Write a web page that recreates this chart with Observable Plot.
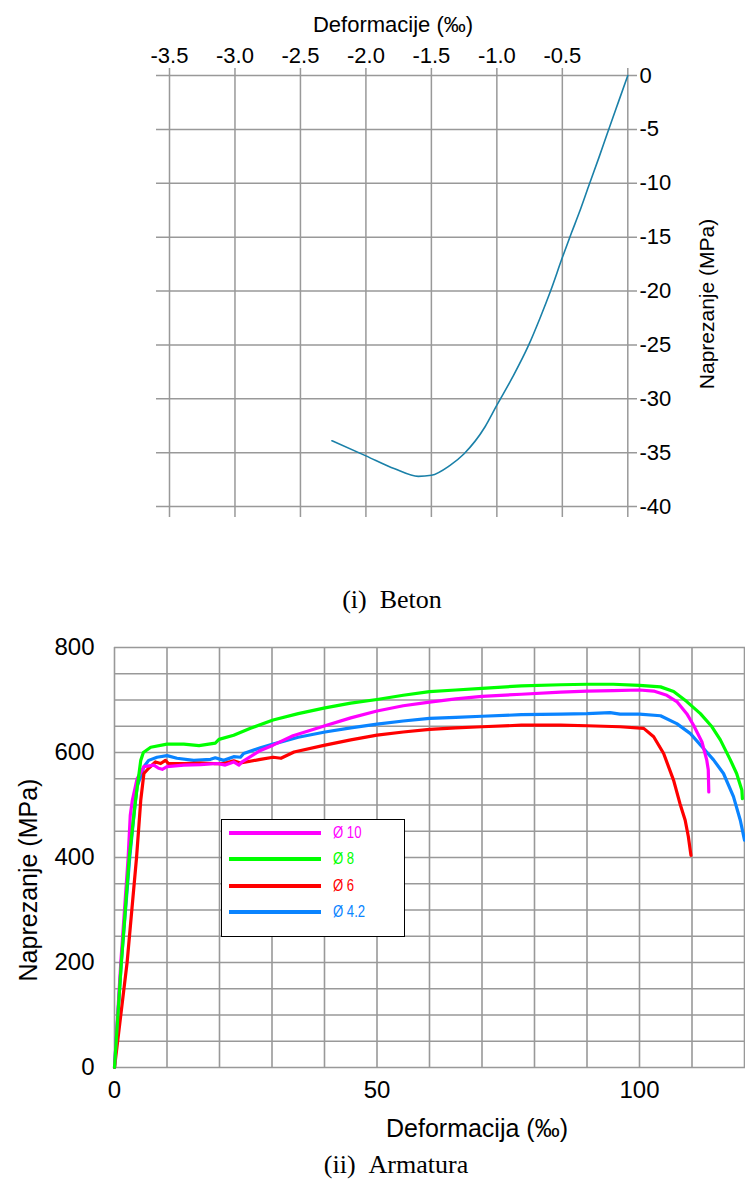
<!DOCTYPE html>
<html><head><meta charset="utf-8">
<script src="https://cdn.jsdelivr.net/npm/d3@7"></script>
<script src="https://cdn.jsdelivr.net/npm/@observablehq/plot@0.6"></script>
<style>
body{margin:0;background:#fff;}
#page{position:relative;width:745px;height:1180px;overflow:hidden;font-family:"Liberation Sans",Arial,sans-serif;color:#000;}
.abs{position:absolute;white-space:nowrap;line-height:1;}
.c{transform:translate(-50%,-50%);}
.r{transform:translate(-50%,-50%) rotate(-90deg);}
.serif{font-family:"Liberation Serif","Times New Roman",serif;}
#legend{position:absolute;left:221px;top:819px;width:182px;height:116px;border:1.5px solid #000;background:#fff;}
.li{position:absolute;left:7px;width:92px;height:3.5px;}
.lt{position:absolute;left:111px;font-size:16px;line-height:1;display:inline-block;transform:translateY(-50%) scaleX(0.82);transform-origin:left center;white-space:nowrap;}
</style></head><body><div id="page"></div>
<script>
// ---------- (i) Beton ----------
const betonStrain = [-2.26, -2.0, -1.78, -1.6, -1.5, -1.36, -1.25, -1.09, -1.0, -0.88, -0.76, -0.67, -0.59, -0.5, -0.43, -0.37, -0.3, -0.22, -0.16, -0.07, 0];
const betonStress = [-33.9, -35.3, -36.5, -37.2, -37.1, -36.2, -35.1, -32.6, -30.6, -28.0, -25.1, -22.5, -20.0, -16.9, -14.6, -12.7, -10.3, -7.6, -5.5, -2.4, 0];
const betonXTicks = [-3.5, -3.0, -2.5, -2.0, -1.5, -1.0, -0.5, 0];
const betonXTickLabels = [-3.5, -3.0, -2.5, -2.0, -1.5, -1.0, -0.5];
const betonYTicks = [0, -5, -10, -15, -20, -25, -30, -35, -40];

// ---------- (ii) Armatura ----------
const seriesNames = ["Ø 10", "Ø 8", "Ø 6", "Ø 4.2"];
const seriesColors = ["#ff00ff", "#00ff00", "#ff0000", "#0a84ff"];

const d10x = [0, 1.2, 2.6, 3.0, 3.4, 4.3, 5.6, 7.5, 8.4, 9.1, 10, 13.2, 16.4, 19.6, 21.1, 22.7, 23.7, 24.3, 27.8, 30.2, 34, 40.1, 45, 50, 55, 60, 65, 70, 77.5, 85, 90, 95, 100, 102.7, 105.2, 107.1, 109, 110.3, 111.9, 112.8, 113.1, 113.2];
const d10y = [0, 200, 400, 480, 509, 550, 573, 576, 570, 568, 573, 576, 577, 579, 576, 582, 576, 582, 604, 614, 632, 651, 666, 679, 689, 696, 702, 707, 711, 715, 717, 718, 719, 717, 709, 697, 674, 652, 620, 586, 567, 525];

const d8x = [0, 1.3, 2.8, 4.0, 5.0, 5.5, 6.9, 10, 13.2, 16.1, 19.2, 19.9, 22.7, 25.9, 30.2, 35, 40.1, 45, 50, 55, 60, 65, 70, 77.5, 85, 90, 95, 100, 104, 106.5, 109, 111.6, 113.8, 115.4, 117.3, 118.5, 119.5, 119.6];
const d8y = [0, 200, 400, 509, 585, 600, 610, 616, 616, 613, 618, 625, 633, 646, 662, 674, 685, 694, 701, 709, 716, 719, 722, 727, 729, 730, 730, 728, 725, 716, 697, 674, 649, 624, 586, 560, 528, 512];

const d6x = [0, 2.4, 4.2, 5.0, 5.6, 6.5, 7.8, 8.8, 9.7, 10.3, 13.2, 16.4, 18.9, 20.8, 22.7, 24, 27.8, 30.2, 31.7, 34.2, 40.1, 45, 50, 55, 60, 65, 70, 77.5, 85, 90, 96.3, 100.8, 102.7, 104.6, 106.5, 107.7, 108.7, 109.3, 109.8];
const d6y = [0, 200, 400, 509, 560, 570, 582, 579, 585, 579, 579, 580, 579, 579, 584, 580, 587, 591, 589, 601, 614, 624, 633, 639, 644, 647, 649, 652, 652, 651, 649, 646, 630, 598, 547, 503, 471, 440, 404];

const d42x = [0, 1.3, 2.9, 3.7, 4.3, 5.6, 6.5, 8.1, 10, 11.9, 15.1, 18.3, 19.2, 20.8, 22.7, 24, 24.6, 27.8, 30.2, 35, 40.1, 45, 50, 55, 60, 65, 70, 77.5, 85, 90, 94.4, 96.3, 100, 104, 107.1, 109.7, 111.9, 114.1, 116, 117.9, 119.2, 120];
const d42y = [0, 200, 400, 480, 535, 573, 585, 591, 594, 589, 585, 587, 590, 585, 592, 591, 598, 609, 616, 629, 639, 647, 654, 660, 665, 667, 669, 672, 673, 674, 676, 673, 673, 670, 655, 636, 611, 586, 560, 516, 471, 433];

const armXGrid = [0, 10, 20, 30, 40, 50, 60, 70, 80, 90, 100, 110, 120];
const armYGrid = [0, 50, 100, 150, 200, 250, 300, 350, 400, 450, 500, 550, 600, 650, 700, 750, 800];
const armXTicks = [0, 50, 100];
const armYTicks = [0, 200, 400, 600, 800];

const page = document.getElementById("page");
const FONT = '"Liberation Sans", Arial, sans-serif';
const GRID = "#999999";

const betonRows = betonStrain.map((x, i) => ({x, y: betonStress[i]}));
const topPlot = Plot.plot({
  width: 745, height: 540,
  marginLeft: 156, marginRight: 108, marginTop: 68, marginBottom: 23,
  x: {domain: [-3.5, 0], range: [169, 627.3], axis: null},
  y: {domain: [-40, 0], range: [506, 75], axis: null},
  style: {fontFamily: FONT, color: "#000", background: "transparent", overflow: "visible"},
  marks: [
    Plot.ruleY(betonYTicks, {stroke: GRID, strokeWidth: 1.5}),
    Plot.ruleX(betonXTicks, {stroke: GRID, strokeWidth: 1.5}),
    Plot.axisX({ticks: betonXTickLabels, anchor: "top", tickSize: 0, tickPadding: 6, fontSize: 22, tickFormat: d => d.toFixed(1), label: null}),
    Plot.axisY({ticks: betonYTicks, anchor: "right", tickSize: 0, tickPadding: 2, fontSize: 22, tickFormat: d => String(d), label: null}),
    Plot.line(betonRows, {x: "x", y: "y", stroke: "#1a80a8", strokeWidth: 1.6, curve: "monotone-x"})
  ]
});
topPlot.style.position = "absolute";
topPlot.style.left = "0px";
topPlot.style.top = "0px";
page.appendChild(topPlot);

const armSeries = [[d10x, d10y], [d8x, d8y], [d6x, d6y], [d42x, d42y]];
const armRows = [];
armSeries.forEach(([xs, ys], k) => xs.forEach((x, i) => armRows.push({x, y: ys[i], s: seriesNames[k]})));
const drawOrder = ["Ø 4.2", "Ø 6", "Ø 10", "Ø 8"];

const botPlot = Plot.plot({
  width: 745, height: 580,
  marginLeft: 114, marginRight: 0, marginTop: 47, marginBottom: 113,
  x: {domain: [0, 120], range: [114, 744], axis: null},
  y: {domain: [0, 800], range: [467, 47], axis: null},
  color: {domain: seriesNames, range: seriesColors},
  style: {fontFamily: FONT, color: "#000", background: "transparent", overflow: "visible"},
  marks: [
    Plot.ruleX(armXGrid, {stroke: GRID, strokeWidth: 1.6}),
    Plot.ruleY(armYGrid, {stroke: GRID, strokeWidth: 1.6}),
    Plot.axisX({ticks: armXTicks, anchor: "bottom", tickSize: 0, tickPadding: 13, fontSize: 24, tickFormat: d => String(d), label: null}),
    Plot.axisY({ticks: armYTicks, anchor: "left", tickSize: 0, tickPadding: 20, fontSize: 24, tickFormat: d => String(d), label: null}),
    ...drawOrder.map(name => Plot.line(armRows.filter(r => r.s === name), {x: "x", y: "y", stroke: "s", strokeWidth: 3.2, curve: "linear"}))
  ]
});
botPlot.style.position = "absolute";
botPlot.style.left = "0px";
botPlot.style.top = "600px";
page.appendChild(botPlot);

function label(text, x, y, size, cls) {
  const d = document.createElement("div");
  d.className = "abs " + cls;
  d.style.left = x + "px";
  d.style.top = y + "px";
  d.style.fontSize = size + "px";
  d.textContent = text;
  page.appendChild(d);
}
label("Deformacije (‰)", 393, 25, 22, "c");
label("Naprezanje (MPa)", 706, 304, 21, "r");
label("(i)\u00a0\u00a0Beton", 392, 600, 26, "c serif");
label("Naprezanje (MPa)", 28, 880, 25, "r");
label("Deformacija (‰)", 477, 1128, 25, "c");
label("(ii)\u00a0\u00a0Armatura", 396, 1165, 26, "c serif");

// legend
const lg = document.createElement("div");
lg.id = "legend";
const legendYs = [13, 39, 66, 92];
seriesNames.forEach((name, i) => {
  const ln = document.createElement("div");
  ln.className = "li";
  ln.style.top = (legendYs[i] - 1.75) + "px";
  ln.style.background = seriesColors[i];
  lg.appendChild(ln);
  const t = document.createElement("div");
  t.className = "lt";
  t.style.top = legendYs[i] + "px";
  t.style.color = seriesColors[i];
  t.textContent = name;
  lg.appendChild(t);
});
page.appendChild(lg);
</script></body></html>
